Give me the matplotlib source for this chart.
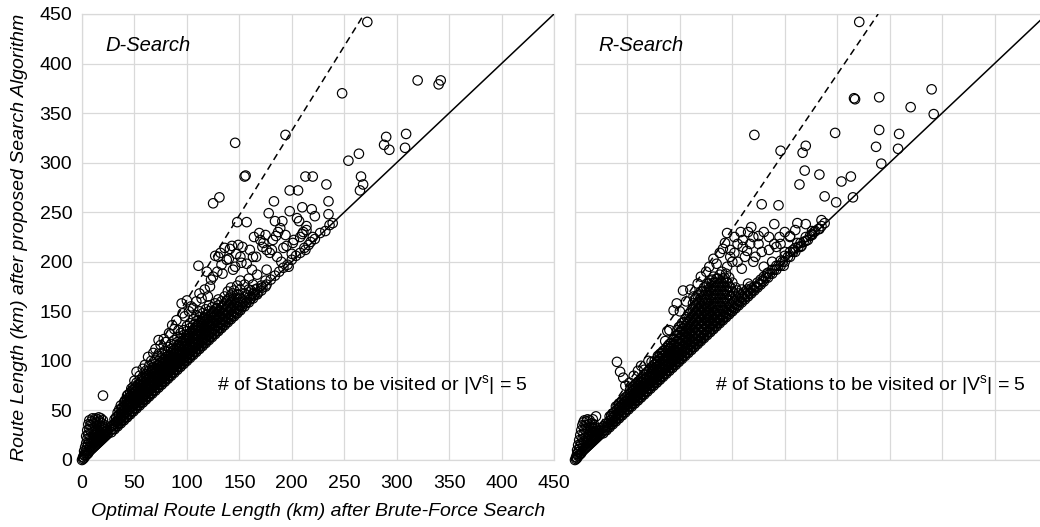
import matplotlib
matplotlib.use("Agg")
import matplotlib.pyplot as plt

plt.rcParams['font.family'] = ['Liberation Sans', 'DejaVu Sans']

# ---------------- data ----------------
axis_ticks = [0, 50, 100, 150, 200, 250, 300, 350, 400, 450]
panel_titles = ["D-Search", "R-Search"]
note_text = r"# of Stations to be visited or |V$^{\mathregular{s}}$| = 5"
x_label = "Optimal Route Length (km) after Brute-Force Search"
y_label = "Route Length (km) after proposed Search Algorithm"

identity_x = [0, 450]
identity_y = [0, 450]
d_dash_x = [10, 269]
d_dash_y = [8, 450]
r_dash_x = [5, 289]
r_dash_y = [7, 450]

# D-Search: cluster near origin
d_blob = [(0,0),(1,1),(1,3),(2,2),(2,5),(2,9),(3,4),(3,7),(3,13),(4,5),(4,10),(4,17),(4,24),
          (5,6),(5,13),(5,21),(5,30),(6,7),(6,16),(6,26),(6,36),(7,9),(7,19),(7,31),(7,40),
          (8,10),(8,14),(8,23),(8,35),(9,11),(9,18),(9,28),(9,39),(10,12),(10,21),(10,32),(10,42),
          (11,13),(11,17),(11,25),(11,37),(12,14),(12,20),(12,29),(12,40),(13,15),(13,23),(13,34),
          (13,42),(14,16),(14,19),(14,27),(14,38),(15,17),(15,22),(15,31),(15,41),(16,18),(16,25),
          (16,35),(16,43),(17,19),(17,22),(17,29),(17,39),(18,20),(18,26),(18,33),(18,42),(19,21),
          (19,24),(19,30),(19,37),(20,22),(20,28),(20,34),(20,40),(21,23),(21,26),(21,32),(22,24),
          (22,29),(22,35),(23,25),(23,28),(24,26),(24,30),(25,27),(20,65)]
# D-Search: dense band (x : list of y)
d_core = {28: [28,31,34], 31: [31,34,37,41], 34: [34,37,40,44,48], 37: [37,40,43,47,51,55],
          40: [40,43,47,50,54,58], 43: [43,46,50,54,57,61,65], 46: [46,49,53,57,60,64,68],
          49: [49,52,56,60,64,67,71,74], 52: [52,55,59,63,66,70,74,78], 55: [55,58,62,66,70,73,77,81],
          58: [58,61,65,69,72,76,80,84], 61: [61,64,68,71,75,79,83,86,90], 64: [64,67,71,74,78,82,86,90,95],
          67: [67,70,74,78,81,85,89,93], 70: [70,73,77,81,85,89,93,97,101],
          73: [73,76,80,84,88,92,96,100,105], 76: [76,79,83,87,91,95,99,103,108],
          79: [79,82,86,90,94,98,102,106,110], 82: [82,85,89,93,97,101,105,109,114],
          85: [85,88,92,96,100,104,108,112,117], 88: [88,91,95,99,103,107,111,116,121],
          91: [91,94,98,102,106,110,115,119,124], 94: [94,97,101,105,109,114,118,123,128],
          97: [97,100,104,108,112,117,121,126,131], 100: [100,103,107,111,116,120,125,130,135],
          103: [103,106,110,114,119,123,128,133,138], 106: [106,109,113,117,122,127,131,136,142],
          109: [109,112,116,121,125,130,135,140,146], 112: [112,115,119,124,129,133,138,144,150],
          115: [115,118,122,127,132,137,142,148], 118: [118,121,126,130,135,141,146,152],
          121: [121,124,129,134,139,144,150,156], 124: [124,127,132,137,143,148,154],
          127: [127,130,135,141,146,152,158], 130: [130,133,138,144,150,156,162],
          133: [133,137,142,148,154,160], 136: [136,140,145,151,158,165], 139: [139,143,149,155,162,170],
          142: [142,146,152,159,166,174], 145: [145,149,156,163,171], 148: [148,152,159,167,176],
          151: [151,156,163,172,181], 155: [155,160,168,177], 159: [159,164,172], 163: [163,168,177],
          167: [167,173], 171: [171,176], 175: [175,181]}
d_core_b = {29.5: [31,35], 32.5: [34,38,43], 35.5: [37,41,46,51], 38.5: [40,45,49,53],
            41.5: [43,48,52,56,60], 44.5: [46,51,55,59,63], 47.5: [49,54,58,62,66,70],
            50.5: [52,57,61,65,69,72], 53.5: [55,60,64,68,72,76], 56.5: [58,63,67,71,75,79],
            59.5: [61,66,70,74,78,82], 62.5: [64,69,73,77,81,85], 65.5: [67,72,76,80,84,88],
            68.5: [70,75,79,83,87,91], 71.5: [73,78,82,86,91,95], 74.5: [76,81,85,90,94,98],
            77.5: [79,84,88,93,97,101], 80.5: [82,87,91,95,99,104], 83.5: [85,90,94,98,102,106],
            86.5: [88,93,97,101,106,110], 89.5: [91,96,100,104,108,113], 92.5: [94,99,103,108,112,116],
            95.5: [97,102,106,111,115,120], 98.5: [100,105,109,114,118,123],
            101.5: [103,108,112,117,122,127], 104.5: [106,111,115,120,125,130],
            107.5: [109,114,119,123,128,133], 110.5: [112,117,122,127,131,136],
            113.5: [115,120,125,130,135,140], 116.5: [118,123,128,133,139,144],
            119.5: [121,126,131,137,142], 122.5: [124,129,135,140,146], 125.5: [127,132,138,144,150],
            128.5: [130,136,141,147,153], 131.5: [133,139,145,151], 134.5: [136,142,148,155],
            137.5: [139,146,152,160], 140.5: [142,149,156,163], 143.5: [145,152,160,168],
            146.5: [148,155,163], 149.5: [151,159,167], 153: [155,162], 157: [159,166],
            161: [163,171], 165: [167,172]}
# D-Search: scattered points
d_spread = [(41,60),(44,66),(47,72),(50,80),(52,89),(55,85),(58,92),(60,96),(63,104),(66,100),(68,108),
            (70,112),(73,121),(75,116),(78,122),(80,119),(83,128),(86,136),(88,132),(90,141),(92,131),
            (95,158),(96,148),(98,145),(100,161),(102,150),(104,155),(106,153),(109,160),(111,196),
            (112,168),(114,163),(117,172),(119,190),(120,165),(122,175),(123,182),(125,185),(125,259),
            (127,206),(129,190),(130,205),(131,265),(132,209),(133,197),(134,188),(136,214),(138,202),
            (140,203),(141,213),(143,216),(144,192),(146,195),(146,320),(147,208),(148,240),(149,217),
            (151,205),(152,199),(153,215),(155,286),(156,287),(157,240),(157,198),(159,183),(160,212),
            (162,192),(163,205),(164,225),(166,205),(167,187),(169,229),(170,222),(172,215),(173,219),
            (175,227),(176,192),(176,212),(178,249),(179,209),(181,212),(182,222),(183,261),(184,241),
            (185,226),(186,205),(187,230),(189,234),(190,200),(191,241),(192,214),(194,227),(194,328),
            (195,216),(197,195),(198,251),(198,272),(200,208),(201,219),(202,222),(205,244),(206,272),
            (207,241),(208,225),(210,255),(210,228),(211,230),(213,212),(214,236),(214,232),(218,220),
            (219,253),(220,225),(220,286),(213,286),(222,246),(232,231),(233,278),(235,248),(235,261),
            (239,239),(152,154),(156,158),(160,162),(164,166),(168,169),(172,174),(176,177),(180,182),
            (184,186),(188,190),(192,194),(196,197),(200,202),(204,206),(208,209),(212,214),(216,217),
            (222,223),(227,229),(236,237)]
d_far = [(248,370),(254,302),(264,309),(266,286),(268,278),(265,272),(272,442),(288,318),(290,326),
         (293,313),(308,315),(309,329),(320,383),(340,379),(342,383)]

# R-Search: cluster near origin
r_blob = [(0,0),(1,1),(1,3),(2,2),(2,6),(2,10),(3,4),(3,8),(3,15),(4,5),(4,11),(4,20),(5,6),(5,14),
          (5,25),(6,7),(6,17),(6,30),(7,9),(7,21),(7,35),(8,10),(8,15),(8,26),(8,38),(9,11),(9,19),
          (9,31),(9,40),(10,12),(10,23),(10,35),(11,13),(11,17),(11,28),(11,39),(12,14),(12,21),
          (12,32),(12,41),(13,15),(13,25),(13,36),(14,16),(14,20),(14,29),(14,40),(15,17),(15,24),
          (15,33),(16,18),(16,21),(16,28),(16,37),(17,19),(17,25),(17,32),(17,41),(18,20),(18,23),
          (18,29),(18,36),(19,21),(19,27),(19,33),(20,22),(20,25),(20,31),(20,44),(21,23),(21,29),
          (22,24),(22,27),(23,25),(23,30),(24,26),(25,27)]
# R-Search: dense band (x : list of y)
r_core = {27: [27,30,34], 30: [30,33,37], 33: [33,36,40,44], 36: [36,39,43,47], 39: [39,42,46,50,54],
          42: [42,45,49,53,57], 45: [45,48,52,56,60], 48: [48,51,55,59,63], 51: [51,54,58,62,66],
          54: [54,57,61,65,69,73], 57: [57,60,64,68,72,76], 60: [60,63,67,71,75,79],
          63: [63,66,70,74,78,82], 66: [66,69,73,77,81,86], 69: [69,72,76,80,84,89],
          72: [72,75,79,83,87,92], 75: [75,78,82,86,91,96], 78: [78,81,85,89,94,99],
          81: [81,84,88,92,97,102,107], 84: [84,87,91,96,100,105,110], 87: [87,90,94,99,103,108,113],
          90: [90,93,97,102,107,112,117], 93: [93,96,100,105,110,115,121], 96: [96,99,103,108,113,119,125],
          99: [99,102,106,111,117,122,128,134], 102: [102,105,109,114,120,126,132,138],
          105: [105,108,112,118,123,129,135,142], 108: [108,111,116,121,127,133,140,147],
          111: [111,114,119,124,130,137,144,151], 114: [114,117,122,128,134,141,148,155,162],
          117: [117,120,125,131,138,145,152,159,166], 120: [120,123,128,134,141,148,155,163,170],
          123: [123,126,131,137,144,151,158,166,174], 126: [126,129,134,141,148,155,163,171,178],
          129: [129,132,137,144,151,158,166,174,181], 132: [132,135,141,148,155,163,171,179,185],
          135: [135,138,144,151,159,167,175,183], 138: [138,141,147,155,163,171,179,187],
          141: [141,144,151,159,167,175,183], 144: [144,148,155,163,171,180,188],
          147: [147,151,158,166,175,184], 150: [150,154,162,170,179], 153: [153,157,165,174],
          156: [156,160,168], 159: [159,164,172], 162: [162,167], 165: [165,170,178], 168: [168,173],
          171: [171,175], 174: [174,179], 177: [177,182], 180: [180,185], 184: [184,189],
          188: [188,192], 192: [192,196], 196: [196,201], 200: [200,206], 205: [205,210],
          210: [210,214], 215: [215,219], 220: [221,225], 226: [227,231], 232: [233], 238: [239]}
r_core_b = {28.5: [30,33], 31.5: [33,37], 34.5: [36,40,44], 37.5: [39,44,48], 40.5: [42,47,51],
            43.5: [45,50,54,58], 46.5: [48,53,57,61], 49.5: [51,56,60,64], 52.5: [54,59,63,67,71],
            55.5: [57,62,66,70,74], 58.5: [60,65,69,73,77], 61.5: [63,68,72,76,80],
            64.5: [66,71,75,79,84], 67.5: [69,74,78,82,87], 70.5: [72,77,81,85,90],
            73.5: [75,80,84,89,94], 76.5: [78,83,87,92,97], 79.5: [81,86,90,95,100,104],
            82.5: [84,89,94,98,103,108], 85.5: [87,92,97,101,106,111], 88.5: [90,95,100,105,110,115],
            91.5: [93,98,103,108,113,118], 94.5: [96,101,106,111,116,122],
            97.5: [99,104,109,114,120,126,131], 100.5: [102,107,112,117,123,129,135],
            103.5: [105,110,115,121,127,133,139], 106.5: [108,113,119,124,130,137,144],
            109.5: [111,116,122,128,134,141,148], 112.5: [114,119,125,131,138,145,152,158],
            115.5: [117,122,128,135,142,149,156,163], 118.5: [120,125,131,138,145,152,159,167],
            121.5: [123,129,135,141,148,155,162,170], 124.5: [126,132,138,145,152,159,167,175],
            127.5: [129,135,141,148,155,162,170,178], 130.5: [132,138,145,152,159,167,175,182],
            133.5: [135,141,148,155,163,171,179], 136.5: [138,144,151,159,167,175,183],
            139.5: [141,147,155,163,171,179], 142.5: [144,151,159,167,175,184],
            145.5: [147,154,162,170,179], 148.5: [150,157,165,174], 151.5: [153,160,168],
            154.5: [156,163,171], 158: [160,166], 161: [163,169], 164: [166,172], 167: [169,175],
            170: [172], 173: [175], 176: [178], 179: [181], 182: [184], 186: [188], 190: [192],
            194: [196], 198: [200], 203: [205], 208: [210], 213: [215], 218: [220], 224: [226],
            229: [231], 235: [236]}
# R-Search: scattered points
r_spread = [(40,99),(43,89),(46,83),(48,75),(52,78),(56,85),(60,90),(63,95),(66,91),(70,100),(73,99),
            (76,100),(79,105),(83,108),(86,120),(88,130),(90,131),(92,118),(94,151),(97,158),(100,150),
            (103,171),(106,160),(110,172),(113,165),(117,178),(120,185),(125,190),(128,195),(132,203),
            (135,198),(138,209),(141,213),(143,219),(145,229),(145,195),(148,205),(152,225),(152,209),
            (155,200),(159,193),(160,215),(164,211),(167,218),(170,200),(172,205),(175,226),(178,210),
            (180,195),(183,188),(185,225),(188,200),(190,238),(192,215),(194,257),(196,218),(199,196),
            (200,210),(205,225),(208,212),(212,239),(212,219),(220,238),(222,222),(228,230),(233,233),
            (235,242),(238,266),(249,260),(254,281),(263,286),(265,265),(178,258),(148,212),(155,218),
            (160,222),(165,230),(170,225),(175,218),(185,212),(190,218),(195,225),(200,230),(205,226),
            (210,232),(180,230),(168,235),(158,230),(226,228),(216,216),(140,190),(150,200),(162,205)]
r_far = [(171,328),(196,312),(214,278),(217,310),(219,292),(220,317),(233,288),(248,330),(266,365),
         (267,364),(271,442),(287,316),(290,333),(290,366),(292,299),(308,314),(309,329),(320,356),
         (340,374),(342,349)]


def collect(pairs_groups, column_groups):
    xs, ys = [], []
    for group in pairs_groups:
        for x, y in group:
            xs.append(x)
            ys.append(y)
    for cols in column_groups:
        for x, col in cols.items():
            for y in col:
                xs.append(x)
                ys.append(y)
    return xs, ys


d_x, d_y = collect((d_blob, d_spread, d_far), (d_core, d_core_b))
r_x, r_y = collect((r_blob, r_spread, r_far), (r_core, r_core_b))

# ---------------- figure ----------------
fig = plt.figure(figsize=(10.4, 5.27), dpi=100)
W, H = 1040, 527
ax_l = fig.add_axes([82 / W, (H - 460) / H, 472 / W, 446 / H])
ax_r = fig.add_axes([575 / W, (H - 460) / H, 472 / W, 446 / H])

grid_c = '#d9d9d9'
panels = [(ax_l, d_x, d_y, d_dash_x, d_dash_y, panel_titles[0], 129),
          (ax_r, r_x, r_y, r_dash_x, r_dash_y, panel_titles[1], 133)]
for ax, xs, ys, dx, dy, title, note_x in panels:
    ax.set_xlim(0, 450)
    ax.set_ylim(0, 450)
    ax.set_xticks(axis_ticks)
    ax.set_yticks(axis_ticks)
    ax.grid(True, color=grid_c, linewidth=0.9)
    ax.set_axisbelow(True)
    for s in ax.spines.values():
        s.set_color(grid_c)
        s.set_linewidth(0.9)
    ax.tick_params(axis='x', length=0, labelsize=14, pad=10.5)
    ax.tick_params(axis='y', length=0, labelsize=14, pad=7)
    ax.plot(identity_x, identity_y, color='black', linewidth=1.1, zorder=3)
    ax.plot(dx, dy, color='black', linewidth=1.1, linestyle=(0, (4.5, 3)), zorder=3)
    ax.scatter(xs, ys, s=46, facecolors='none', edgecolors='black', linewidths=0.85,
               zorder=4, clip_on=False)
    ax.text(22, 418, title, fontsize=14.5, style='italic', va='center', ha='left')
    ax.text(note_x, 75, note_text, fontsize=14, va='center', ha='left')

ax_r.tick_params(labelbottom=False, labelleft=False)
ax_l.set_xlabel(x_label, fontsize=14, style='italic', labelpad=8)
ax_l.set_ylabel(y_label, fontsize=14, style='italic', labelpad=8)

fig.savefig('out.png', dpi=100)
